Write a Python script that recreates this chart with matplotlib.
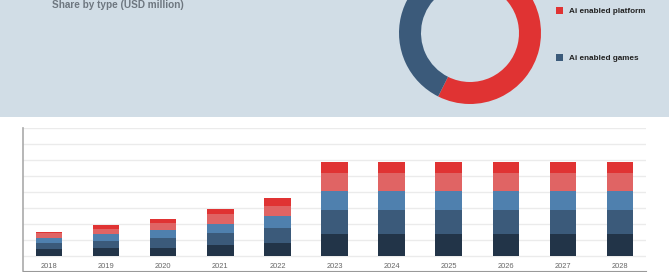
import matplotlib
matplotlib.use("Agg")
import matplotlib.pyplot as plt
from matplotlib.patches import Rectangle
import numpy as np

# donut data (share by type)
types = ["Ai enabled platform", "Ai enabled games"]
shares = [57.4, 42.6]
type_colors = ["#e03333", "#3b5a7a"]

# stacked bar data (five segments, bottom to top)
years = ["2018", "2019", "2020", "2021", "2022", "2023",
         "2024", "2025", "2026", "2027", "2028"]
seg1 = [0.39, 0.45, 0.51, 0.66, 0.80, 1.33, 1.33, 1.33, 1.33, 1.33, 1.33]
seg2 = [0.38, 0.48, 0.60, 0.77, 0.92, 1.52, 1.52, 1.52, 1.52, 1.52, 1.52]
seg3 = [0.31, 0.43, 0.47, 0.58, 0.77, 1.23, 1.23, 1.23, 1.23, 1.23, 1.23]
seg4 = [0.31, 0.34, 0.44, 0.57, 0.65, 1.07, 1.07, 1.07, 1.07, 1.07, 1.07]
seg5 = [0.12, 0.25, 0.25, 0.37, 0.45, 0.75, 0.75, 0.75, 0.75, 0.75, 0.75]
seg_colors = ["#223448", "#3b5a7a", "#4f80ae", "#e06464", "#e03333"]

W, H = 669, 272
fig = plt.figure(figsize=(W / 100, H / 100), dpi=100)
fig.patch.set_facecolor("white")

# top panel background
fig.patches.append(Rectangle((0, 1 - 117 / H), 1, 117 / H, transform=fig.transFigure,
                             facecolor="#d1dde6", edgecolor="none", zorder=-1))

fig.text(52 / W, 1 - 5 / H, "Share by type (USD million)", fontsize=7.2,
         fontweight="bold", color="#6e7780", family="Liberation Sans",
         ha="left", va="center")

# donut
cx, cy, R = 470, 33, 71
pax = fig.add_axes([(cx - R) / W, (H - cy - R) / H, 2 * R / W, 2 * R / H])
wedges, _ = pax.pie(shares, colors=type_colors, startangle=90, counterclock=False,
                    radius=1, wedgeprops=dict(width=22 / R, edgecolor="none"))
pax.set_xlim(-1, 1)
pax.set_ylim(-1, 1)
pax.axis("off")

leg = fig.legend(wedges, types, loc="upper left",
                 bbox_to_anchor=(556 / W, 1 - 7 / H), frameon=False,
                 prop={"family": "Liberation Sans", "weight": "bold", "size": 5.9},
                 handlelength=0.85, handleheight=0.85, handletextpad=0.75,
                 labelspacing=4.75, borderpad=0, borderaxespad=0)
for t in leg.get_texts():
    t.set_color("#222222")

# stacked bars
ax = fig.add_axes([23 / W, (H - 271.3) / H, (646 - 23) / W, (271.3 - 128) / H])
x = np.arange(len(years))
bottom = np.zeros(len(years))
for vals, c in zip([seg1, seg2, seg3, seg4, seg5], seg_colors):
    ax.bar(x, vals, width=0.46, bottom=bottom, color=c, zorder=3)
    bottom += np.array(vals)

ax.set_xlim(-0.46, 10.46)
ax.set_ylim(-0.98, 8)
ax.set_yticks(np.arange(0, 9))
ax.set_yticklabels([])
ax.tick_params(axis="y", length=0)
ax.grid(axis="y", color="#ebebeb", linewidth=1, zorder=0)
ax.set_xticks(x)
ax.set_xticklabels(years, fontsize=5.4, color="#666666", family="Liberation Sans")
ax.tick_params(axis="x", length=0, pad=-6.3)
for s in ["top", "right"]:
    ax.spines[s].set_visible(False)
ax.spines["left"].set_color("#aaaaaa")
ax.spines["left"].set_linewidth(1.2)
ax.spines["bottom"].set_color("#999999")
ax.spines["bottom"].set_linewidth(0.8)

fig.savefig("out.png", dpi=100)
